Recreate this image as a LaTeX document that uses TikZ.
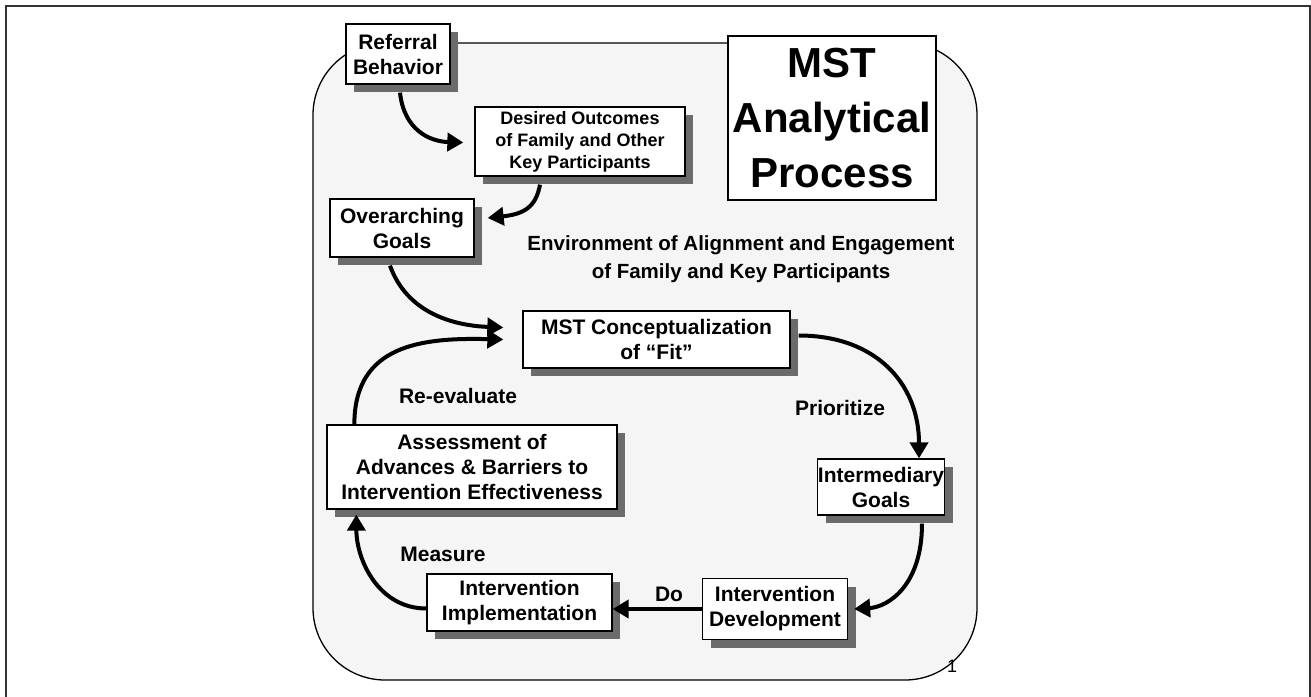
\documentclass[tikz,border=0pt]{standalone}
\usepackage{fontspec}
\setmainfont{Liberation Sans}
\usetikzlibrary{arrows.meta,shadows,calc}
\tikzset{
  procbox/.style={draw=black, line width=1.3pt, fill=white, align=center, inner sep=0pt,
    font=\bfseries\fontsize{21}{25}\selectfont,
    drop shadow={shadow xshift=8pt, shadow yshift=-8pt, fill=black!58, opacity=1}},
  lbl/.style={font=\bfseries\fontsize{21}{25}\selectfont, inner sep=0pt},
  arr/.style={line width=4pt, -{Triangle[width=18pt,length=16pt]}},
}
\begin{document}
\begin{tikzpicture}[x=1pt,y=-1pt]
\useasboundingbox (0,0) rectangle (1311,696);
% outer frame
\draw[line width=2pt, black!80] (6,700) -- (6,6) -- (1310,6) -- (1310,700);
% environment area
\draw[line width=1.3pt, fill=black!4, rounded corners=72pt] (313,43) rectangle (977,680);
\node[font=\fontsize{18}{20}\selectfont, inner sep=0pt] (pg) at (952,666) {1};

% nodes
\node[procbox, minimum width=104pt, minimum height=60pt] (ref) at (398,54) {Referral\\Behavior};
\node[procbox, minimum width=210pt, minimum height=69pt, font=\bfseries\fontsize{18}{22}\selectfont] (des) at (580,141.5) {Desired Outcomes\\of Family and Other\\Key Participants};
\node[draw=black, line width=1.3pt, fill=white, align=center, inner sep=0pt, minimum width=208pt, minimum height=164pt, font=\bfseries\fontsize{42}{55}\selectfont] (title) at (832,118) {MST\\Analytical\\Process};
\node[procbox, minimum width=144pt, minimum height=58pt] (ovg) at (402,228) {Overarching\\Goals};
\node[lbl, align=center, font=\bfseries\fontsize{20.5}{28}\selectfont] (env) at (741,259) {Environment of Alignment and Engagement\\of Family and Key Participants};
\node[procbox, minimum width=267pt, minimum height=57pt] (fit) at (656.5,339.5) {MST Conceptualization\\of \char"201C Fit\char"201D};
\node[procbox, minimum width=127pt, minimum height=56pt] (int) at (881,487) {Intermediary\\Goals};
\node[procbox, minimum width=290pt, minimum height=84pt] (ass) at (472,467) {Assessment of\\Advances \& Barriers to\\Intervention Effectiveness};
\node[procbox, minimum width=185pt, minimum height=57pt] (imp) at (519.5,602.5) {Intervention\\Implementation};
\node[procbox, minimum width=145pt, minimum height=61pt] (dev) at (775,609) {Intervention\\Development};

% labels
\node[lbl] (reeval) at (458,396) {Re-evaluate};
\node[lbl] (prio) at (840,408) {Prioritize};
\node[lbl] (meas) at (443,554) {Measure};
\node[lbl] (do) at (669,594) {Do};

% connectors
\draw[arr] ($(ref.south)+(2,8)$) .. controls ($(ref.south)+(6,45)$) and ($(des.west)+(-45,0)$) .. ($(des.west)+(-11,1)$);
\draw[arr] ($(des.south)+(-40,8)$) .. controls ($(des.south)+(-44,30)$) and ($(ovg.east)+(50,-14)$) .. ($(ovg.east)+(13,-10)$);
\draw[arr] ($(ovg.south)+(-12,8)$) .. controls ($(ovg.south)+(5,55)$) and ($(fit.west)+(-70,-14)$) .. ($(fit.west)+(-19,-12)$);
\draw[arr] ($(ass.north west)+(28,0)$) .. controls ($(ass.north west)+(28,-80)$) and ($(fit.west)+(-100,-2)$) .. ($(fit.west)+(-19,0)$);
\draw[arr] ($(fit.east)+(8,-4)$) .. controls ($(fit.east)+(85,-4)$) and ($(int.north)+(38,-75)$) .. ($(int.north)+(38,0)$);
\draw[arr] ($(int.south)+(41,8)$) .. controls ($(int.south)+(41,70)$) and ($(dev.east)+(40,-2)$) .. ($(dev.east)+(6,0)$);
\draw[arr] (dev.west) -- ($(imp.east |- dev.west)$);
\draw[arr] ($(imp.west)+(0,6)$) .. controls ($(imp.west)+(-48,6)$) and ($(ass.south west)+(30,50)$) .. ($(ass.south west)+(30,5)$);
\end{tikzpicture}
\end{document}
